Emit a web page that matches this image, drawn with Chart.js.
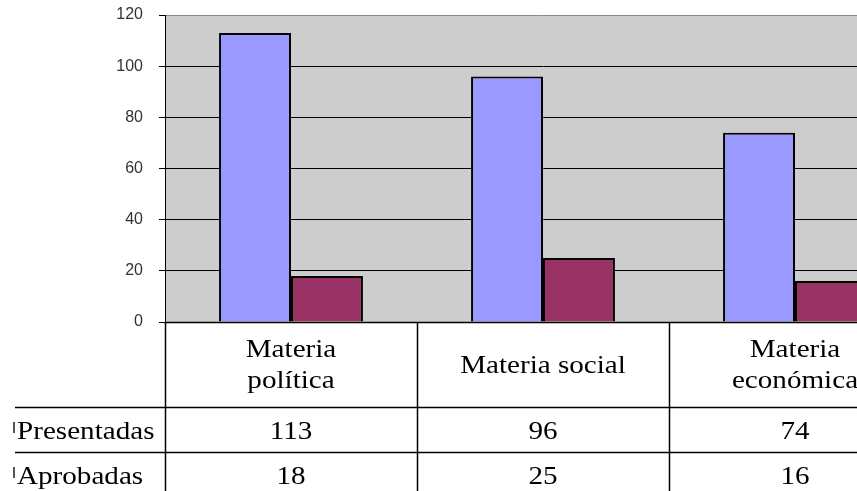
<!DOCTYPE html>
<html>
<head>
<meta charset="utf-8">
<script src="https://cdn.jsdelivr.net/npm/chart.js@4.4.1/dist/chart.umd.min.js"></script>
<style>
html,body{margin:0;padding:0;background:#fff;overflow:hidden;width:857px;height:491px;}
#c{display:block;}
</style>
</head>
<body>
<canvas id="c" width="925" height="491"></canvas>
<script>
const categories = [['Materia','política'], 'Materia social', ['Materia','económica']];
const seriesNames = ['Presentadas', 'Aprobadas'];
const presentadas = [113, 96, 74];
const aprobadas = [18, 25, 16];
const yTicks = [0, 20, 40, 60, 80, 100, 120];

const colors = ['#9999ff', '#993366'];
const serif = '"Liberation Serif", "Times New Roman", serif';
const STRETCH = 1.12;

function drawStretched(ctx, text, x, y, align) {
  ctx.save();
  ctx.translate(x, y);
  ctx.scale(STRETCH, 1);
  ctx.textAlign = align;
  ctx.fillText(text, 0, 0);
  ctx.restore();
}

const tablePlugin = {
  id: 'tablePlugin',
  beforeDraw(chart) {
    const {ctx, chartArea: a} = chart;
    ctx.save();
    ctx.fillStyle = '#cdcdcd';
    ctx.fillRect(a.left, a.top, a.right - a.left, a.bottom - a.top);
    ctx.restore();
  },
  afterDraw(chart) {
    const {ctx, chartArea: a} = chart;
    const x = chart.scales.x;
    const n = categories.length;
    const w = (x.right - x.left) / n;
    const H = chart.height;
    const headerBottom = a.bottom + 85;
    const rowH = 45;
    ctx.save();
    ctx.strokeStyle = '#000';
    ctx.lineWidth = 1.5;
    ctx.beginPath();
    ctx.moveTo(a.left, a.bottom + 0.5);
    ctx.lineTo(a.right, a.bottom + 0.5);
    ctx.stroke();
    for (let i = 0; i <= n; i++) {
      const px = Math.round(x.left + i * w) + 0.5;
      ctx.beginPath();
      ctx.moveTo(px, a.bottom);
      ctx.lineTo(px, H);
      ctx.stroke();
    }
    for (let r = 0; r < seriesNames.length; r++) {
      const py = Math.round(headerBottom + r * rowH) + 0.5;
      ctx.beginPath();
      ctx.moveTo(15, py);
      ctx.lineTo(a.right, py);
      ctx.stroke();
    }
    ctx.fillStyle = '#000';
    ctx.font = '26px ' + serif;
    ctx.textBaseline = 'alphabetic';
    const mid = (a.bottom + headerBottom) / 2;
    categories.forEach((c, i) => {
      const cx = x.getPixelForValue(i);
      const lines = Array.isArray(c) ? c : [c];
      const lh = 31;
      const start = mid - (lines.length - 1) * lh / 2;
      lines.forEach((t, k) => drawStretched(ctx, t, cx, start + k * lh + 8, 'center'));
    });
    const data = [presentadas, aprobadas];
    seriesNames.forEach((name, r) => {
      const base = headerBottom + r * rowH + 32;
      drawStretched(ctx, name, 17, base, 'left');
      ctx.fillStyle = '#555';
      ctx.fillRect(13, base - 17, 2, 11);
      ctx.fillStyle = '#000';
      data[r].forEach((v, i) => {
        drawStretched(ctx, String(v), x.getPixelForValue(i), base, 'center');
      });
    });
    ctx.restore();
  }
};

new Chart(document.getElementById('c'), {
  type: 'bar',
  data: {
    labels: categories,
    datasets: [
      {label: seriesNames[0], data: presentadas, backgroundColor: colors[0], borderColor: '#000', borderWidth: 2, borderSkipped: 'start'},
      {label: seriesNames[1], data: aprobadas, backgroundColor: colors[1], borderColor: '#000', borderWidth: 2, borderSkipped: 'start'}
    ]
  },
  options: {
    responsive: false,
    animation: false,
    devicePixelRatio: 1,
    layout: {padding: {top: 15, bottom: 169, right: 4, left: 0}},
    plugins: {legend: {display: false}, tooltip: {enabled: false}},
    datasets: {bar: {categoryPercentage: 0.571, barPercentage: 1.0}},
    scales: {
      x: {display: false},
      y: {
        min: 0, max: 120,
        afterBuildTicks(scale) { scale.ticks = yTicks.map(v => ({value: v})); },
        afterFit(scale) { scale.width = 165; scale.paddingTop = 0; scale.paddingBottom = 0; },
        border: {display: true, color: '#000', width: 1},
        grid: {
          color: ctx => (ctx.tick && ctx.tick.value === 120) ? '#8a8a8a' : (ctx.tick && ctx.tick.value === 0 ? 'rgba(0,0,0,0)' : '#000'),
          tickColor: '#000',
          tickLength: 6,
          lineWidth: 1
        },
        ticks: {
          padding: 16,
          color: '#333',
          font: {family: '"Liberation Sans", Arial, sans-serif', size: 16}
        }
      }
    }
  },
  plugins: [tablePlugin]
});
</script>
</body>
</html>
